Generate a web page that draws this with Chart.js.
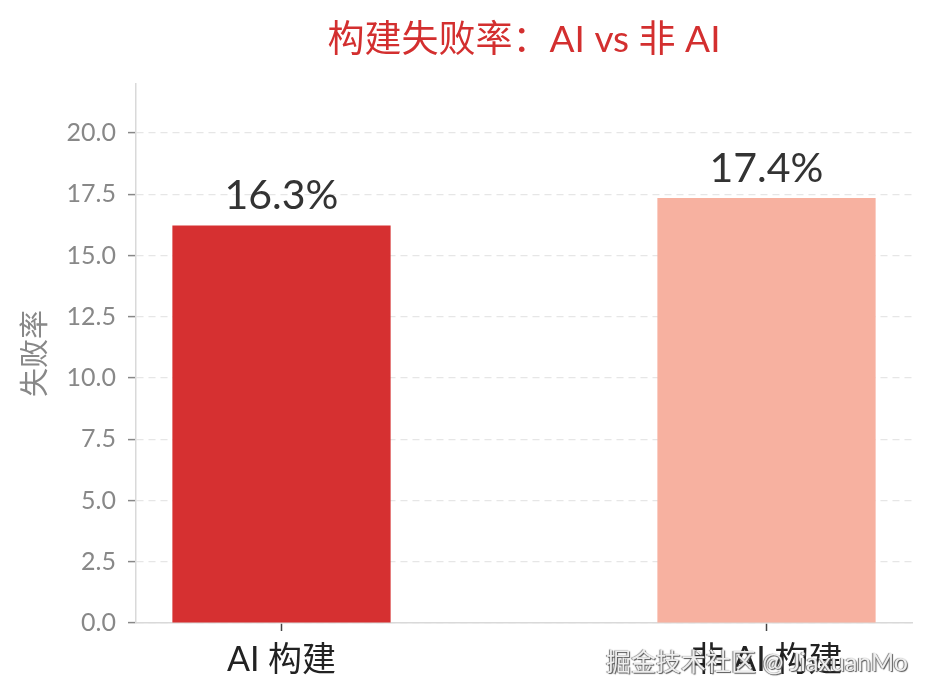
<!DOCTYPE html>
<html lang="zh">
<head>
  <meta charset="utf-8">
  <title>构建失败率：AI vs 非 AI</title>
  <script src="https://cdn.jsdelivr.net/npm/chart.js@4.4.1/dist/chart.umd.min.js"></script>
  <style>
    html, body { margin: 0; padding: 0; background: #fff; }
    .wrap { position: relative; width: 930px; height: 697px; }
    .mark {
      position: absolute; left: 606px; top: 649px;
      font: 25px/1 Lato, "Noto Sans CJK SC", sans-serif;
      color: #eeeeee;
      text-shadow: 1px 1px 1px #555, -1px 0 1px #777;
      white-space: nowrap;
    }
  </style>
</head>
<body>
  <div class="wrap">
    <canvas id="chart" width="930" height="697"></canvas>
    <div class="mark">掘金技术社区 @ JiaxuanMo</div>
  </div>
  <script>
    // data
    const categories = ['AI 构建', '非 AI 构建'];
    const failRates = [16.22, 17.35];
    const rateLabels = ['16.3%', '17.4%'];
    const barColors = ['#d63031', '#f7b1a0'];
    const yTicks = [0, 2.5, 5, 7.5, 10, 12.5, 15, 17.5, 20];
    const titleText = '构建失败率：AI vs 非 AI';

    const FONT = 'Lato, "Noto Sans CJK SC", sans-serif';

    // percentage labels over the bars + title centred on the plot area
    const barLabels = {
      id: 'barLabels',
      afterDatasetsDraw(chart) {
        const ctx = chart.ctx;
        const meta = chart.getDatasetMeta(0);
        const area = chart.chartArea;
        ctx.save();
        ctx.font = '41px ' + FONT;
        ctx.fillStyle = '#333';
        ctx.textAlign = 'center';
        ctx.textBaseline = 'bottom';
        meta.data.forEach((bar, i) => {
          ctx.fillText(rateLabels[i], bar.x, bar.y - 9);
        });
        ctx.font = '37px ' + FONT;
        ctx.fillStyle = '#d32f2f';
        ctx.textBaseline = 'middle';
        ctx.fillText(titleText, (area.left + area.right) / 2, 40);
        ctx.restore();
      }
    };

    const canvas = document.getElementById('chart');
    new Chart(canvas.getContext('2d'), {
      type: 'bar',
      data: {
        datasets: [{
          data: failRates.map((v, i) => ({ x: i, y: v })),
          backgroundColor: barColors,
          borderWidth: 0,
          barPercentage: 0.45,
          categoryPercentage: 1
        }]
      },
      options: {
        responsive: false,
        animation: false,
        layout: { padding: { left: 0, right: 18, top: 84, bottom: 0 } },
        plugins: {
          legend: { display: false },
          tooltip: { enabled: false }
        },
        scales: {
          x: {
            type: 'linear',
            offset: false,
            min: -0.3,
            max: 1.3,
            afterBuildTicks: s => { s.ticks = categories.map((c, i) => ({ value: i })); },
            afterFit: s => { s.height = 74; },
            ticks: {
              callback: v => categories[v],
              color: '#222',
              font: { family: FONT, size: 34 },
              padding: 9,
              maxRotation: 0
            },
            grid: { offset: false, drawOnChartArea: false, drawTicks: true, tickLength: 8, tickColor: '#444', tickWidth: 1.5 },
            border: { color: '#d9d9d9', width: 1.5 }
          },
          y: {
            min: 0,
            max: 22,
            afterBuildTicks: s => { s.ticks = yTicks.map(v => ({ value: v })); },
            afterFit: s => { s.width = 136; },
            ticks: {
              callback: v => v.toFixed(1),
              color: '#888',
              font: { family: FONT, size: 25 },
              padding: 12
            },
            title: {
              display: true,
              text: '失败率',
              color: '#888',
              font: { family: FONT, size: 29 },
              padding: { top: 18, bottom: 0 }
            },
            grid: { color: '#e6e6e6', lineWidth: 1.2, tickLength: 8, tickColor: '#888', tickWidth: 1.5, tickBorderDash: [] },
            border: { color: '#d9d9d9', width: 1.5, dash: [7, 5] }
          }
        }
      },
      plugins: [barLabels]
    });
  </script>
</body>
</html>
